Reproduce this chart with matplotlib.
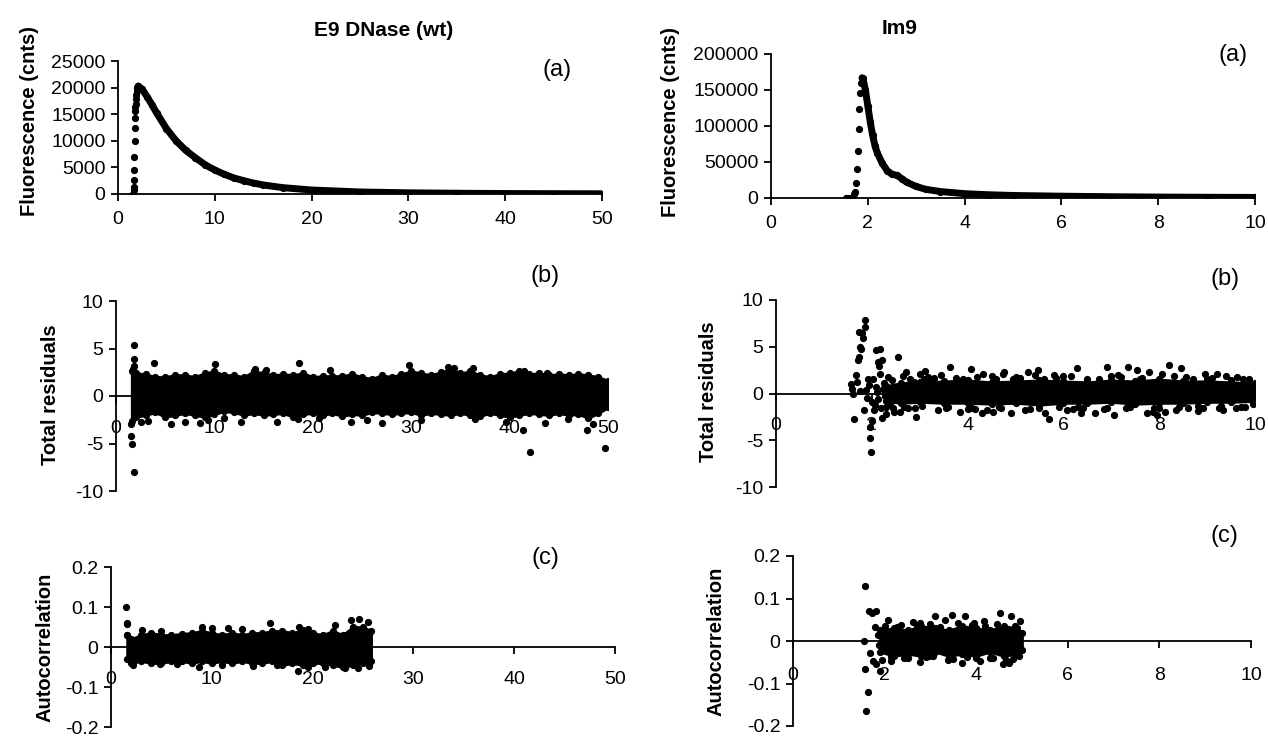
import matplotlib
matplotlib.use('Agg')
import matplotlib.pyplot as plt

plt.rcParams['font.family'] = ['Liberation Sans', 'DejaVu Sans']

W, H = 1268, 738

# ---- (a) fluorescence decays ----
e9_rise_x = [1.6, 1.62, 1.64, 1.66, 1.68, 1.7, 1.72, 1.74, 1.76, 1.78, 1.8, 1.83, 1.86, 1.9, 1.95]
e9_rise_y = [0, 700, 1400, 2700, 4500, 7000, 10000, 12400, 14200, 15600, 16300, 17000, 17800, 18600, 19400]
e9_decay_x = [2.0, 2.1, 2.5, 3, 3.5, 4, 5, 6, 7, 8, 9, 10, 11, 12, 13, 14, 15, 17,
              20, 25, 30, 35, 40, 45, 50]
e9_decay_y = [20000, 20300, 19700, 18300, 16800, 15200, 12300, 10000, 8200, 6800, 5500, 4500,
              3700, 3000, 2500, 2050, 1700, 1200, 750, 380, 220, 140, 90, 60, 40]

im9_rise_x = [1.55, 1.6, 1.65, 1.7, 1.72, 1.74, 1.76, 1.78, 1.79, 1.81, 1.82, 1.84, 1.86]
im9_rise_y = [0, 0, 300, 2000, 5000, 9000, 21000, 40000, 65000, 96000, 124000, 146000, 160000]
im9_decay_x = [1.88, 1.9, 1.95, 2.0, 2.05, 2.1, 2.15, 2.2, 2.3, 2.4, 2.5, 2.6, 2.7, 2.8, 3.0,
               3.2, 3.5, 4.0, 4.5, 5, 6, 7, 8, 9, 10]
im9_decay_y = [167000, 166000, 150000, 128000, 106000, 87000, 72000, 62000, 48000, 38000,
               33000, 31500, 27000, 22000, 16000, 12000, 9000, 6000, 4500, 3500, 2500, 1800,
               1300, 1000, 800]

# ---- (b) total residuals ----
e9_res_band_x = [1.6, 2, 3, 4, 5, 6, 7, 8, 9, 10, 11, 12, 13, 14, 15, 16, 17, 18, 19, 20, 21,
                 22, 23, 24, 25, 26, 27, 28, 29, 30, 31, 32, 33, 34, 35, 36, 37, 38, 39, 40,
                 41, 42, 43, 44, 45, 46, 47, 48, 49, 50]
e9_res_band_hi = [2.6, 2.4, 2.3, 2.0, 2.0, 2.2, 2.2, 2.0, 2.4, 2.6, 2.2, 2.2, 2.0, 2.6, 2.4,
                  2.2, 2.3, 2.2, 2.4, 2.0, 2.1, 2.1, 2.1, 2.3, 2.0, 1.8, 2.2, 2.0, 2.3, 2.6,
                  2.4, 2.2, 2.5, 2.8, 2.4, 2.6, 2.2, 2.0, 2.3, 2.4, 2.6, 2.3, 2.4, 2.2, 2.3,
                  2.2, 2.3, 2.2, 2.0, 1.6]
e9_res_band_lo = [-2.6, -2.2, -2.0, -1.7, -2.2, -2.0, -1.8, -2.0, -2.2, -1.9, -1.6, -1.7, -2.0,
                  -1.8, -2.0, -1.9, -1.8, -2.2, -1.9, -1.8, -2.0, -1.8, -2.1, -1.9, -2.0, -1.7,
                  -1.8, -1.9, -1.8, -1.7, -2.0, -1.8, -1.9, -2.0, -1.8, -2.0, -2.1, -1.8, -2.0,
                  -2.2, -2.0, -1.8, -1.9, -2.0, -1.8, -2.0, -1.9, -2.3, -1.8, -1.2]
e9_res_pts_x = [1.8, 1.8, 1.85, 1.7, 3.9, 10.1, 18.6, 21.7, 29.8, 33.7, 34.3, 36.3, 14.1, 15.2,
                41.5, 43.8, 1.5, 1.5, 1.6, 1.8, 42.1, 49.7, 41.4, 47.9, 2.5, 5.6, 7.0, 8.5,
                12.7, 16.4, 18.5, 23.9, 27.0, 39.6, 43.6, 45.9, 3.3, 9.4, 25.5, 31.0, 36.5,
                48.5, 20.6, 11.0]
e9_res_pts_y = [5.4, 3.9, 3.2, 2.8, 3.5, 3.4, 3.5, 2.7, 3.3, 3.1, 2.9, 2.9, 2.8, 2.7,
                2.6, 2.4, -2.9, -4.2, -5.0, -8.0, -5.9, -5.5, -3.6, -3.6, -2.75, -2.9, -2.75,
                -2.85, -2.75, -2.75, -2.4, -2.75, -2.85, -2.75, -2.85, -2.4, -2.6, -2.5, -2.5,
                -2.5, -2.4, -2.9, -2.3, -2.3]

im9_res_core_x = [2.3, 2.6, 3.0, 3.5, 4.0, 4.5, 5.0, 5.5, 6.0, 6.5, 7.0, 7.5, 8.0, 8.5, 9.0,
                  9.5, 10.0]
im9_res_core_hi = [0.8, 1.1, 1.2, 1.3, 1.4, 1.2, 1.3, 1.4, 1.3, 1.2, 1.4, 1.3, 1.5, 1.3, 1.3,
                   1.2, 1.1]
im9_res_core_lo = [-0.8, -1.0, -0.9, -1.0, -1.0, -1.1, -1.0, -1.2, -1.0, -1.0, -0.9, -1.1,
                   -1.0, -1.0, -0.9, -0.9, -0.8]
im9_res_pts_x = [1.57, 1.59, 1.6, 1.63, 1.67, 1.72, 1.74, 1.76, 1.78, 1.74, 1.8, 1.82, 1.86,
                 1.86, 1.84, 1.87, 1.92, 1.97, 1.97, 1.98, 2.0, 2.0, 2.05, 2.09, 2.18, 2.13,
                 2.15, 2.18, 2.22, 2.54, 2.09, 2.26, 2.34, 2.43, 1.7, 1.75, 1.9, 1.95, 2.02,
                 2.06, 2.1, 2.12, 2.2, 2.24, 2.28, 2.3, 2.22, 2.36, 2.4, 2.45,
                 2.72, 3.0, 3.12, 3.64, 4.08, 4.33, 4.73, 4.76, 5.27, 5.46, 6.28, 6.92, 7.34,
                 7.53, 7.78, 8.2, 8.45, 8.95, 9.2, 9.62, 9.87,
                 2.59, 2.93, 3.39, 3.85, 4.31, 4.52, 4.9, 5.61, 5.69, 6.07, 6.36, 6.65, 7.05,
                 7.74, 7.87, 7.95, 8.12, 8.41, 8.91, 9.33, 9.71, 9.96,
                 2.51, 2.38, 2.68, 2.89, 2.93, 2.3, 2.47, 3.18, 3.35, 3.51, 3.77,
                 2.8, 3.3, 3.9, 4.2, 4.6, 5.1, 5.6, 6.0, 6.5, 7.2, 7.6, 8.3, 8.7, 9.1, 9.5,
                 2.9, 3.6, 4.1, 4.7, 5.3, 5.9, 6.4, 6.9, 7.4, 8.0, 8.6, 9.3, 9.8,
                 3.1, 4.4, 5.8, 7.0, 8.8, 6.2, 5.0, 4.0,
                 2.65, 3.2, 3.45, 3.75, 4.5, 4.95, 5.4, 5.85, 6.15, 6.75, 7.15, 7.65, 8.05,
                 8.55, 9.0, 9.4, 9.75,
                 2.75, 3.05, 3.55, 4.15, 4.65, 5.2, 5.5, 6.3, 6.85, 7.3, 7.9, 8.35, 8.8,
                 9.25, 9.6]
im9_res_pts_y = [1.0, 0.5, 0.0, -2.7, 2.0, 3.6, 3.9, 5.0, 4.8, 6.6, 6.5, 5.9, 7.85, 7.1, -1.8,
                 0.4, 1.6, -3.6, -4.8, -6.25, -2.9, -0.9, -1.8, 4.6, 4.8, 3.4, 2.9, 2.1, 3.6,
                 3.9, 0.7, 1.1, 1.8, 1.4, 1.2, 0.3, -0.5, 0.9, 1.5, -1.2, 0.2, -0.6, -1.5,
                 0.5, -0.3, -2.2, -2.6, -1.0, 0.3, -1.6,
                 2.3, 2.1, 2.4, 2.8, 2.6, 2.1, 2.1, 2.3, 2.3, 2.5, 2.7, 2.85, 2.8, 2.5, 2.3,
                 3.0, 2.7, 2.1, 2.1, 1.8, 1.6,
                 -2.0, -2.5, -1.8, -2.0, -2.1, -2.0, -2.1, -2.1, -2.7, -1.8, -2.1, -2.1, -2.3,
                 -2.1, -2.0, -2.3, -2.0, -1.4, -1.6, -1.8, -1.4, -1.1,
                 0.7, -1.1, -1.4, 1.25, -0.35, -1.4, -2.0, 1.8, 0.5, -0.9, 1.25,
                 1.6, 1.7, 1.5, 1.8, 1.6, 1.7, 1.5, 1.9, 1.6, 1.8, 1.5, 1.9, 1.6, 1.7, 1.4,
                 -1.5, -1.4, -1.6, -1.5, -1.7, -1.4, -1.6, -1.5, -1.4, -1.6, -1.5, -1.3, -1.4,
                 1.5, -1.8, 2.0, 1.9, -1.9, -1.7, 1.8, -1.7,
                 1.9, 1.5, 2.0, 1.7, 1.9, 1.6, 2.0, 1.7, 1.9, 1.6, 2.0, 1.7, 2.1, 1.8, 1.6,
                 1.9, 1.5,
                 -1.6, -1.3, -1.5, -1.7, -1.4, -1.8, -1.5, -1.4, -1.7, -1.5, -1.6, -1.8, -1.3,
                 -1.6, -1.5]

# ---- (c) autocorrelation ----
e9_ac_band_x = [1.6, 2, 3, 4, 5, 6, 7, 8, 9, 10, 11, 12, 13, 14, 15, 16, 17, 18, 19, 20, 21,
                22, 23, 24, 25, 25.8]
e9_ac_band_hi = [0.03, 0.02, 0.03, 0.035, 0.03, 0.03, 0.033, 0.035, 0.04, 0.035, 0.03, 0.035,
                 0.03, 0.035, 0.035, 0.04, 0.04, 0.035, 0.042, 0.035, 0.03, 0.04, 0.03, 0.05,
                 0.05, 0.04]
e9_ac_band_lo = [-0.03, -0.04, -0.035, -0.04, -0.04, -0.035, -0.035, -0.04, -0.035, -0.04,
                 -0.035, -0.04, -0.035, -0.04, -0.04, -0.035, -0.045, -0.04, -0.045, -0.04,
                 -0.04, -0.045, -0.05, -0.045, -0.04, -0.035]
e9_ac_pts_x = [1.5, 1.55, 1.6, 1.6, 3.1, 9.0, 10.0, 11.6, 15.8, 18.7, 22.2, 23.8, 24.6, 25.5,
               24.1, 5.0, 13.0, 19.5, 8.7, 14.1, 18.6, 19.5, 23.2, 21.2, 4.9, 2.2, 6.5, 11.0,
               16.5, 24.5, 25.6]
e9_ac_pts_y = [0.100, 0.06, 0.057, 0.03, 0.043, 0.051, 0.047, 0.047, 0.06, 0.049, 0.055,
               0.068, 0.071, 0.063, 0.045, 0.04, 0.044, 0.046, -0.051, -0.047, -0.059, -0.051,
               -0.053, -0.049, -0.043, -0.045, -0.042, -0.045, -0.046, -0.052, -0.047]

im9_ac_core_x = [1.9, 2.2, 2.5, 2.8, 3.1, 3.4, 3.7, 4.0, 4.3, 4.6, 4.9, 5.0]
im9_ac_core_hi = [0.025, 0.03, 0.025, 0.035, 0.03, 0.025, 0.035, 0.03, 0.025, 0.035, 0.03, 0.02]
im9_ac_core_lo = [-0.025, -0.035, -0.03, -0.035, -0.025, -0.035, -0.03, -0.035, -0.025,
                  -0.035, -0.03, -0.02]
im9_ac_pts_x = [1.58, 1.56, 1.58, 1.63, 1.6, 1.66, 1.73, 1.82, 1.78, 1.69, 1.75, 1.82, 1.89,
                1.95, 2.08, 2.61, 2.78, 3.09, 3.48, 3.76, 4.16, 4.51, 4.75, 4.95, 2.26, 3.31,
                3.96, 2.13, 2.43, 2.78, 2.96, 3.39, 3.7, 4.09, 4.36, 4.58, 4.71, 4.93,
                2.0, 2.35, 2.7, 3.0, 3.2, 3.6, 3.9, 4.2, 4.45, 4.85, 2.5, 2.9, 3.5, 3.8, 4.3,
                4.65, 2.15, 3.05, 4.0, 4.8, 1.85, 1.88, 1.92]
im9_ac_pts_y = [0.13, 0.0, -0.067, -0.12, -0.165, 0.07, 0.066, 0.07, 0.034, -0.028, -0.048,
                -0.055, -0.071, -0.044, 0.05, 0.044, 0.042, 0.059, 0.062, 0.058, 0.046,
                0.067, 0.058, 0.046, 0.034, 0.05, 0.042, -0.048, -0.04, -0.05, -0.036, -0.044,
                -0.052, -0.048, -0.04, -0.053, -0.052, -0.036,
                0.035, 0.038, 0.036, 0.04, 0.034, 0.042, 0.037, 0.035, 0.04, 0.036, -0.04,
                -0.038, -0.042, -0.037, -0.041, -0.044, -0.038, -0.036, -0.04, -0.042,
                0.015, -0.01, 0.02]


def rect(x0, x1, ytop, ybot):
    return [x0 / W, 1 - ybot / H, (x1 - x0) / W, (ybot - ytop) / H]


def style(ax, xmax, xticks, ylim, yticks, ylabels, xpad):
    ax.set_xlim(0, xmax)
    ax.set_ylim(*ylim)
    ax.spines['top'].set_visible(False)
    ax.spines['right'].set_visible(False)
    ax.spines['bottom'].set_position(('data', 0))
    ax.spines['left'].set_linewidth(1.3)
    ax.spines['bottom'].set_linewidth(1.3)
    ax.set_xticks(xticks)
    ax.set_xticklabels([str(t) for t in xticks])
    ax.set_yticks(yticks)
    ax.set_yticklabels(ylabels)
    ax.tick_params(direction='out', length=5, width=1.3, labelsize=14, pad=4)
    ax.tick_params(axis='x', pad=xpad)
    ax.patch.set_alpha(0)


def band(ax, x, lo, hi):
    ax.fill_between(x, lo, hi, color='k', lw=2, zorder=3)
    ax.plot(x, hi, 'o', color='k', ms=ms, zorder=3)
    ax.plot(x, lo, 'o', color='k', ms=ms, zorder=3)


def ftext(x, y, s, **kw):
    fig.text(x / W, 1 - y / H, s, ha='center', va='center', **kw)


fig = plt.figure(figsize=(W / 100, H / 100), dpi=100)

ms = 4.2
# top-left
ax = fig.add_axes(rect(118, 602, 61, 194))
ax.plot(e9_decay_x, e9_decay_y, color='k', lw=5, solid_capstyle='round')
ax.plot(e9_decay_x, e9_decay_y, 'o', color='k', ms=ms)
ax.plot(e9_rise_x, e9_rise_y, 'o', color='k', ms=ms)
style(ax, 50, [0, 10, 20, 30, 40, 50], (0, 25000), [0, 5000, 10000, 15000, 20000, 25000],
      ['0', '5000', '10000', '15000', '20000', '25000'], 7.5)

# top-right
ax = fig.add_axes(rect(771, 1255, 54, 198))
ax.plot(im9_decay_x, im9_decay_y, color='k', lw=5, solid_capstyle='round')
ax.plot(im9_decay_x, im9_decay_y, 'o', color='k', ms=ms)
ax.plot(im9_rise_x, im9_rise_y, 'o', color='k', ms=ms)
style(ax, 10, [0, 2, 4, 6, 8, 10], (0, 200000), [0, 50000, 100000, 150000, 200000],
      ['0', '50000', '100000', '150000', '200000'], 7.5)

# mid-left
ax = fig.add_axes(rect(116, 608, 301, 491))
band(ax, e9_res_band_x, e9_res_band_lo, e9_res_band_hi)
ax.plot(e9_res_pts_x, e9_res_pts_y, 'o', color='k', ms=ms, zorder=3)
style(ax, 50, [0, 10, 20, 30, 40, 50], (-10, 10), [-10, -5, 0, 5, 10],
      ['-10', '-5', '0', '5', '10'], 12.5)

# mid-right
ax = fig.add_axes(rect(776, 1255, 300, 487))
band(ax, im9_res_core_x, im9_res_core_lo, im9_res_core_hi)
ax.plot(im9_res_pts_x, im9_res_pts_y, 'o', color='k', ms=ms, zorder=3)
style(ax, 10, [0, 2, 4, 6, 8, 10], (-10, 10), [-10, -5, 0, 5, 10],
      ['-10', '-5', '0', '5', '10'], 12)

# bottom-left
ax = fig.add_axes(rect(111, 615, 567, 727))
band(ax, e9_ac_band_x, e9_ac_band_lo, e9_ac_band_hi)
ax.plot(e9_ac_pts_x, e9_ac_pts_y, 'o', color='k', ms=ms, zorder=3)
style(ax, 50, [0, 10, 20, 30, 40, 50], (-0.2, 0.2), [-0.2, -0.1, 0, 0.1, 0.2],
      ['-0.2', '-0.1', '0', '0.1', '0.2'], 12.5)

# bottom-right
ax = fig.add_axes(rect(793, 1251, 556, 726))
band(ax, im9_ac_core_x, im9_ac_core_lo, im9_ac_core_hi)
ax.plot(im9_ac_pts_x, im9_ac_pts_y, 'o', color='k', ms=ms, zorder=3)
style(ax, 10, [0, 2, 4, 6, 8, 10], (-0.2, 0.2), [-0.2, -0.1, 0, 0.1, 0.2],
      ['-0.2', '-0.1', '0', '0.1', '0.2'], 14)

# titles and panel letters
ftext(384, 30, 'E9 DNase (wt)', fontsize=15, fontweight='bold')
ftext(900, 28, 'Im9', fontsize=15, fontweight='bold')
for x, y, s in [(557, 70, '(a)'), (1233, 55, '(a)'), (545, 276, '(b)'), (1225, 279, '(b)'),
                (545, 558, '(c)'), (1224, 536, '(c)')]:
    ftext(x, y, s, fontsize=17)

for x, y, s in [(30, 121, 'Fluorescence (cnts)'), (671, 122, 'Fluorescence (cnts)'),
                (51, 395, 'Total residuals'), (709, 392, 'Total residuals'),
                (45, 647, 'Autocorrelation'), (716, 641, 'Autocorrelation')]:
    ftext(x, y, s, fontsize=14.5, fontweight='bold', rotation=90)

fig.savefig('out.png', dpi=100)
